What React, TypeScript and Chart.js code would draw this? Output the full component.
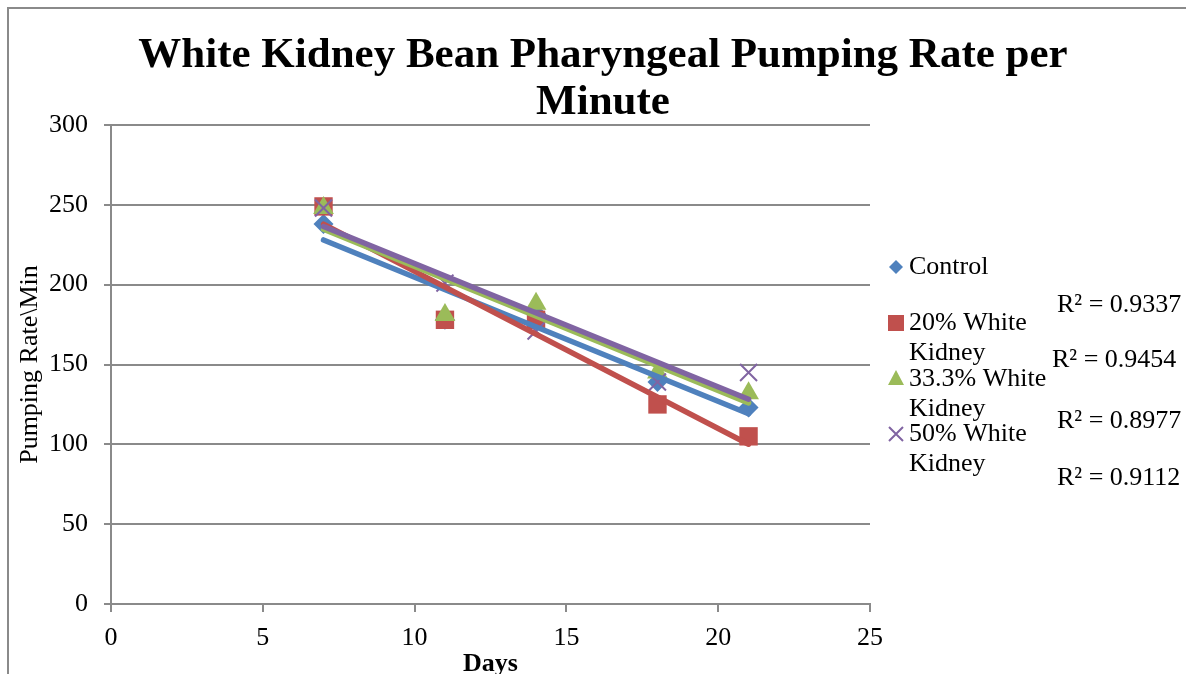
import React, { useEffect, useRef } from "react";
import { Chart, registerables } from "chart.js";

Chart.register(...registerables);

// ---- data ----
const days = [7, 11, 14, 18, 21];
const seriesNames = ["Control", "20% White Kidney", "33.3% White Kidney", "50% White Kidney"];
const controlValues = [238, 178, 182, 139, 123];
const white20Values = [249, 178, 178, 125, 105];
const white33Values = [248, 181, 188, 145, 132];
const white50Values = [248, 201, 171, 139, 145];
const r2Labels = ["R² = 0.9337", "R² = 0.9454", "R² = 0.8977", "R² = 0.9112"];
const titleLines = ["White Kidney Bean Pharyngeal Pumping Rate per", "Minute"];
const xAxisTitle = "Days";
const yAxisTitle = "Pumping Rate\\Min";
const xMin = 0, xMax = 25, xStep = 5;
const yMin = 0, yMax = 300, yStep = 50;

const colors = ["#4F81BD", "#C0504D", "#9BBB59", "#8064A2"];
const pointStyles = ["rectRot", "rect", "triangle", "crossRot"];
const pointRadii = [10, 13, 12, 12];
const FONT = '"Liberation Serif", "Times New Roman", serif';

function linearFit(xs: number[], ys: number[]) {
  const n = xs.length;
  const mx = xs.reduce((a, b) => a + b, 0) / n;
  const my = ys.reduce((a, b) => a + b, 0) / n;
  let sxy = 0, sxx = 0;
  for (let i = 0; i < n; i++) {
    sxy += (xs[i] - mx) * (ys[i] - my);
    sxx += (xs[i] - mx) * (xs[i] - mx);
  }
  const slope = sxy / sxx;
  const icpt = my - slope * mx;
  const x0 = Math.min(...xs), x1 = Math.max(...xs);
  return [
    { x: x0, y: icpt + slope * x0 },
    { x: x1, y: icpt + slope * x1 },
  ];
}

const overlayPlugin = {
  id: "overlay",
  afterDraw(chart: any) {
    const ctx = chart.ctx as CanvasRenderingContext2D;
    const area = chart.chartArea;
    ctx.save();
    // outer frame (top & left visible)
    ctx.strokeStyle = "#8a8a8a";
    ctx.lineWidth = 2;
    ctx.beginPath();
    ctx.moveTo(8, 700);
    ctx.lineTo(8, 8);
    ctx.lineTo(1200, 8);
    ctx.stroke();

    // title
    ctx.fillStyle = "#000";
    ctx.textAlign = "center";
    ctx.textBaseline = "middle";
    ctx.font = `bold 43px ${FONT}`;
    ctx.fillText(titleLines[0], 603, 56);
    ctx.fillText(titleLines[1], 603, 103);

    // axis titles
    ctx.font = `bold 26px ${FONT}`;
    ctx.fillText(xAxisTitle, (area.left + area.right) / 2, 664);
    ctx.save();
    ctx.translate(30, (area.top + area.bottom) / 2);
    ctx.rotate(-Math.PI / 2);
    ctx.font = `26px ${FONT}`;
    ctx.fillText(yAxisTitle, 0, 0);
    ctx.restore();

    // legend
    ctx.font = `26px ${FONT}`;
    ctx.textAlign = "left";
    const legendY = [267, 323, 379, 434];
    const lineGap = 30;
    const maxW = 150;
    seriesNames.forEach((name, i) => {
      const words = name.split(" ");
      const lines: string[] = [];
      let cur = "";
      words.forEach((w) => {
        const t = cur ? cur + " " + w : w;
        if (ctx.measureText(t).width > maxW && cur) {
          lines.push(cur);
          cur = w;
        } else cur = t;
      });
      if (cur) lines.push(cur);
      lines.forEach((ln, k) => ctx.fillText(ln, 909, legendY[i] + k * lineGap));
      // marker
      const cx = 896, cy = legendY[i];
      ctx.fillStyle = colors[i];
      ctx.strokeStyle = colors[i];
      ctx.lineWidth = 2;
      ctx.beginPath();
      if (i === 0) {
        ctx.moveTo(cx - 7, cy); ctx.lineTo(cx, cy - 7); ctx.lineTo(cx + 7, cy); ctx.lineTo(cx, cy + 7);
        ctx.closePath(); ctx.fill();
      } else if (i === 1) {
        ctx.rect(cx - 8, cy - 8, 16, 16); ctx.fill();
      } else if (i === 2) {
        ctx.moveTo(cx, cy - 9); ctx.lineTo(cx + 8, cy + 6); ctx.lineTo(cx - 8, cy + 6);
        ctx.closePath(); ctx.fill();
      } else {
        ctx.moveTo(cx - 7, cy - 7); ctx.lineTo(cx + 7, cy + 7);
        ctx.moveTo(cx + 7, cy - 7); ctx.lineTo(cx - 7, cy + 7);
        ctx.stroke();
      }
      ctx.fillStyle = "#000";
    });

    // R² labels
    const r2X = [1057, 1052, 1057, 1057];
    const r2Y = [305, 360, 421, 478];
    r2Labels.forEach((t, i) => ctx.fillText(t, r2X[i], r2Y[i]));
    ctx.restore();
  },
};

export default function App() {
  const ref = useRef<HTMLCanvasElement | null>(null);
  useEffect(() => {
    if (!ref.current) return;
    const all = [controlValues, white20Values, white33Values, white50Values];
    const markerSets = all.map((vals, i) => ({
      label: seriesNames[i],
      data: days.map((d, k) => ({ x: d, y: vals[k] })),
      showLine: false,
      pointStyle: pointStyles[i],
      pointRadius: pointRadii[i],
      pointHoverRadius: pointRadii[i],
      backgroundColor: colors[i],
      borderColor: colors[i],
      pointBorderWidth: i === 3 ? 2 : 0,
      order: 8 - i,
    }));
    const trendSets = all.map((vals, i) => ({
      label: seriesNames[i] + " trend",
      data: linearFit(days, vals),
      showLine: true,
      pointRadius: 0,
      borderColor: colors[i],
      borderWidth: 5.5,
      borderCapStyle: "round",
      order: 4 - i,
    }));
    const chart = new Chart(ref.current, {
      type: "scatter",
      data: { datasets: [...markerSets, ...trendSets] as any },
      options: {
        animation: false,
        responsive: false,
        events: [],
        layout: { padding: { left: 0, top: 125, right: 316, bottom: 0 } },
        plugins: { legend: { display: false }, title: { display: false }, tooltip: { enabled: false } },
        scales: {
          x: {
            type: "linear",
            min: xMin,
            max: xMax,
            ticks: { stepSize: xStep, color: "#000", font: { family: FONT, size: 26 }, padding: 11 },
            grid: { drawOnChartArea: false, drawTicks: true, tickLength: 8, color: "#8a8a8a", lineWidth: 2 },
            border: { display: true, color: "#8a8a8a", width: 2 },
            afterFit: (s: any) => { s.height = 70; },
          },
          y: {
            type: "linear",
            min: yMin,
            max: yMax,
            ticks: { stepSize: yStep, color: "#000", font: { family: FONT, size: 26 }, padding: 16 },
            grid: { drawOnChartArea: true, drawTicks: true, tickLength: 7, color: "#8a8a8a", lineWidth: 2 },
            border: { display: true, color: "#8a8a8a", width: 2 },
            afterFit: (s: any) => { s.width = 111; },
          },
        },
      },
      plugins: [overlayPlugin],
    });
    return () => chart.destroy();
  }, []);
  return (
    <div style={{ position: "fixed", left: 0, top: 0, width: 1186, height: 674, overflow: "hidden", background: "#fff" }}>
      <canvas ref={ref} width={1186} height={674} style={{ display: "block", width: 1186, height: 674 }} />
    </div>
  );
}
